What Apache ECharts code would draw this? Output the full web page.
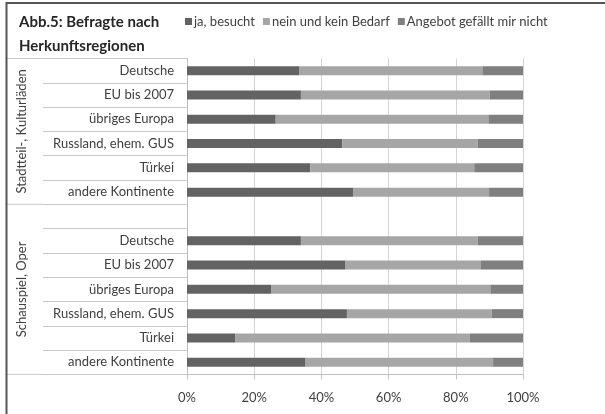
<!DOCTYPE html>
<html>
<head>
<meta charset="utf-8">
<script src="https://cdn.jsdelivr.net/npm/echarts@6/dist/echarts.min.js"></script>
<style>
  html, body { margin: 0; padding: 0; background: #fff; }
  #chart { width: 605px; height: 414px; }
</style>
</head>
<body>
<div id="chart"></div>
<script>
// ---- data ----
const categories = [
  'Deutsche', 'EU bis 2007', 'übriges Europa', 'Russland, ehem. GUS', 'Türkei', 'andere Kontinente',
  '',
  'Deutsche', 'EU bis 2007', 'übriges Europa', 'Russland, ehem. GUS', 'Türkei', 'andere Kontinente'
];
const groups = ['Stadtteil-, Kulturläden', 'Schauspiel, Oper'];
const seriesNames = ['ja, besucht', 'nein und kein Bedarf', 'Angebot gefällt mir nicht'];
const jaBesucht = [33.5, 33.9, 26.4, 46.2, 36.7, 49.4, null, 33.9, 47.2, 25.0, 47.6, 14.3, 35.3];
const neinKeinBedarf = [54.4, 56.2, 63.3, 40.3, 48.8, 40.5, null, 52.6, 40.3, 65.3, 43.1, 69.8, 55.8];
const angebotGefaelltNicht = [12.1, 9.9, 10.3, 13.5, 14.5, 10.1, null, 13.5, 12.5, 9.7, 9.3, 15.9, 8.9];
const xTicks = [0, 20, 40, 60, 80, 100];

const FONT = 'Lato';
const TXT = '#404040';

const chart = echarts.init(document.getElementById('chart'), null, { renderer: 'canvas' });

const option = {
  animation: false,
  backgroundColor: '#ffffff',
  textStyle: { fontFamily: FONT },
  title: {
    text: 'Abb.5: Befragte nach\nHerkunftsregionen',
    left: 14,
    top: 5,
    textStyle: { fontFamily: FONT, fontSize: 15, fontWeight: 'bold', color: '#262626', lineHeight: 24 }
  },
  legend: {
    left: 180,
    top: 10,
    itemWidth: 7,
    itemHeight: 7,
    itemGap: 8,
    icon: 'rect',
    textStyle: { fontFamily: FONT, fontSize: 13, color: TXT, padding: [0, 0, 0, -3] },
    data: seriesNames
  },
  grid: { left: 187, right: 82, top: 58.5, bottom: 39.6, containLabel: false },
  xAxis: {
    type: 'value',
    min: xTicks[0],
    max: xTicks[xTicks.length - 1],
    interval: 20,
    axisLine: { show: true, lineStyle: { color: '#bfbfbf', width: 1 } },
    axisTick: { show: true, length: 5, lineStyle: { color: '#bfbfbf' } },
    splitLine: { show: true, lineStyle: { color: '#d4d4d4', width: 1 } },
    axisLabel: { formatter: '{value}%', color: TXT, fontSize: 13, fontFamily: FONT, margin: 17 }
  },
  yAxis: {
    type: 'category',
    inverse: true,
    data: categories,
    axisLine: { show: true, lineStyle: { color: '#bfbfbf' } },
    axisTick: { show: true, interval: 0, length: 144, lineStyle: { color: '#c8c8c8' } },
    axisLabel: { interval: 0, color: TXT, fontSize: 13, fontFamily: FONT, margin: 13 },
    splitLine: { show: false }
  },
  series: [
    { name: seriesNames[0], type: 'bar', stack: 'total', data: jaBesucht, barWidth: 9, itemStyle: { color: '#636363' } },
    { name: seriesNames[1], type: 'bar', stack: 'total', data: neinKeinBedarf, barWidth: 9, itemStyle: { color: '#a6a6a6' } },
    { name: seriesNames[2], type: 'bar', stack: 'total', data: angebotGefaelltNicht, barWidth: 9, itemStyle: { color: '#7f7f7f' } }
  ]
};
chart.setOption(option);

// group labels and outer separators, positioned from the axis scale
const c0 = chart.convertToPixel({ yAxisIndex: 0 }, 0);
const cN = chart.convertToPixel({ yAxisIndex: 0 }, categories.length - 1);
const band = (cN - c0) / (categories.length - 1);
const yTop = c0 - band / 2;
const split1 = yTop + 6 * band;
const yBot = yTop + categories.length * band;
const xAxisLeft = chart.convertToPixel({ xAxisIndex: 0 }, 0);
const innerLeft = xAxisLeft - 144;

const sepStyle = { stroke: '#c8c8c8', lineWidth: 1 };
chart.setOption({
  graphic: [
    { type: 'line', shape: { x1: 7, y1: yTop, x2: innerLeft, y2: yTop }, style: sepStyle, silent: true },
    { type: 'line', shape: { x1: 7, y1: split1, x2: innerLeft, y2: split1 }, style: sepStyle, silent: true },
    { type: 'line', shape: { x1: 7, y1: yBot, x2: innerLeft, y2: yBot }, style: sepStyle, silent: true },
    { type: 'text', x: 22, y: (yTop + split1) / 2, rotation: Math.PI / 2,
      style: { text: groups[0], fill: TXT, font: '13px ' + FONT, textAlign: 'center', textVerticalAlign: 'middle' }, silent: true },
    { type: 'text', x: 22, y: (split1 + yBot) / 2, rotation: Math.PI / 2,
      style: { text: groups[1], fill: TXT, font: '13px ' + FONT, textAlign: 'center', textVerticalAlign: 'middle' }, silent: true },
    // outer frame (top and left edges)
    { type: 'line', shape: { x1: 6.5, y1: 3, x2: 605, y2: 3 }, style: { stroke: '#555555', lineWidth: 2 }, silent: true },
    { type: 'line', shape: { x1: 6.5, y1: 2, x2: 6.5, y2: 414 }, style: { stroke: '#555555', lineWidth: 2 }, silent: true }
  ]
});
</script>
</body>
</html>
